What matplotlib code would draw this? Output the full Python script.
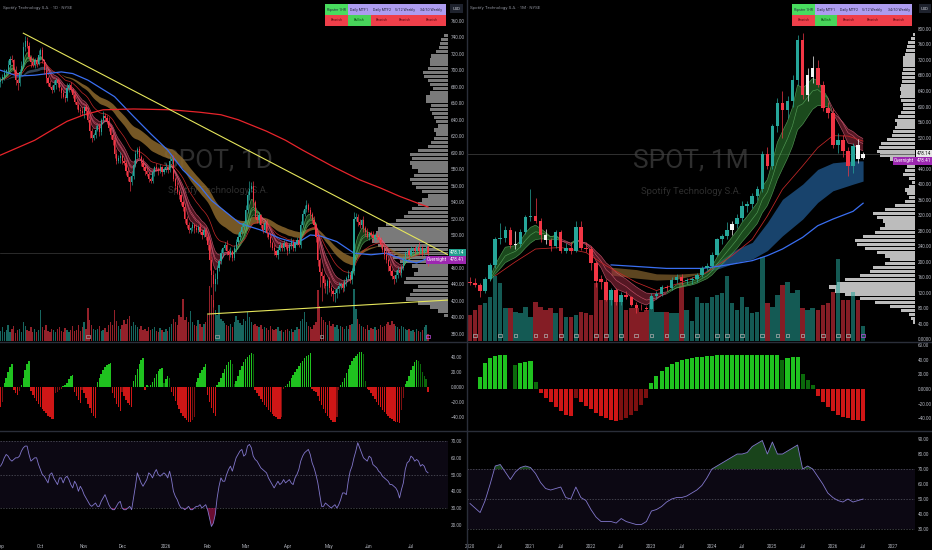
import numpy as np
import pandas as pd
import matplotlib
matplotlib.use("Agg")
import matplotlib.pyplot as plt
from matplotlib.patches import Rectangle
from matplotlib.collections import LineCollection

plt.rcParams['font.family'] = ['Roboto', 'DejaVu Sans']

# ======================= DATA =======================
# ---- daily (left) ----
d_start = '2025-09-02'
d_first_open = 686
d_close = [
    688, 692, 697, 700, 706, 714, 712, 700, 688, 684,
    698, 705, 728, 735, 730, 716, 710, 706, 712, 708,
    718, 724, 712, 700, 690, 684, 680, 676, 682, 688,
    684, 678, 672, 668, 666, 678, 682, 676, 670, 662,
    658, 652, 650, 648, 655, 650, 640, 626, 618, 622,
    628, 632, 625, 640, 645, 642, 638, 630, 622, 615,
    598, 590, 594, 596, 590, 588, 578, 570, 564, 572,
    585, 598, 604, 595, 588, 582, 578, 574, 568, 566,
    576, 582, 580, 578, 582, 576, 580, 582, 579, 590,
    592, 568, 560, 552, 548, 540, 534, 520, 512, 506,
    508, 512, 508, 506, 510, 504, 500, 506, 498, 488,
    470, 452, 440, 446, 460, 468, 478, 484, 488, 480,
    476, 480, 472, 484, 492, 498, 504, 510, 514, 530,
    548, 556, 560, 540, 522, 518, 524, 512, 506, 514,
    502, 498, 490, 484, 480, 476, 482, 488, 484, 490,
    486, 480, 488, 492, 484, 490, 494, 488, 512, 526,
    532, 536, 530, 526, 518, 512, 498, 470, 455, 450,
    442, 438, 444, 436, 432, 428, 430, 434, 438, 440,
    436, 444, 448, 452, 446, 456, 520, 522, 516, 512,
    518, 508, 504, 498, 502, 500, 496, 500, 498, 494,
    488, 482, 476, 470, 462, 456, 450, 446, 452, 458,
    454, 460, 470, 478, 480, 476, 482, 484, 480, 486,
    480, 484, 478, 482, 486, 478]
d_wick_up = [
    4, 3, 5, 2, 6, 3, 4, 2, 5, 3,
    4, 6, 6, 6, 5, 4, 2, 6, 3, 4,
    6, 3, 4, 2, 5, 3, 4, 2, 6, 3,
    3, 5, 2, 4, 3, 6, 2, 4, 3, 5,
    2, 4, 3, 5, 2, 4, 6, 3, 4, 2,
    5, 3, 4, 2, 6, 3, 4, 5, 3, 2,
    4, 6, 3, 5, 2, 4, 3, 5, 2, 4,
    6, 5, 3, 4, 2, 5, 3, 4, 2, 3,
    4, 2, 5, 3, 4, 2, 3, 5, 2, 6,
    3, 5, 2, 4, 3, 4, 2, 5, 3, 4,
    2, 4, 3, 5, 2, 4, 3, 2, 4, 3,
    6, 4, 5, 8, 4, 3, 5, 2, 4, 6,
    3, 5, 2, 4, 3, 5, 2, 4, 3, 6,
    5, 10, 4, 6, 3, 5, 4, 2, 4, 3,
    5, 2, 4, 3, 5, 2, 4, 3, 2, 4,
    3, 5, 2, 4, 3, 2, 4, 3, 5, 4,
    5, 7, 3, 4, 2, 5, 3, 4, 2, 5,
    3, 4, 2, 5, 3, 2, 4, 3, 5, 2,
    4, 3, 2, 5, 3, 4, 8, 5, 3, 4,
    2, 5, 3, 4, 2, 3, 5, 2, 4, 3,
    4, 2, 3, 5, 2, 4, 3, 2, 5, 3,
    4, 3, 5, 2, 4, 3, 5, 2, 4, 3,
    5, 3, 4, 2, 3, 2]
d_wick_dn = [
    6, 3, 4, 2, 3, 5, 2, 4, 6, 8,
    3, 4, 2, 5, 3, 4, 6, 2, 3, 4,
    2, 5, 3, 4, 6, 3, 2, 4, 3, 5,
    4, 3, 6, 2, 4, 3, 5, 2, 4, 3,
    5, 3, 4, 2, 6, 4, 3, 8, 5, 3,
    4, 2, 5, 3, 4, 2, 3, 4, 5, 6,
    5, 4, 3, 6, 4, 3, 5, 4, 10, 3,
    4, 3, 5, 2, 4, 3, 5, 2, 4, 3,
    3, 4, 2, 5, 3, 4, 2, 3, 4, 2,
    4, 3, 5, 2, 4, 3, 5, 6, 4, 3,
    4, 3, 5, 2, 4, 3, 5, 2, 4, 6,
    12, 15, 27, 8, 5, 4, 3, 5, 2, 4,
    6, 3, 4, 2, 5, 3, 4, 2, 3, 4,
    3, 5, 4, 6, 3, 4, 5, 3, 4, 2,
    4, 3, 5, 2, 4, 3, 5, 2, 4, 3,
    3, 4, 2, 5, 3, 4, 2, 3, 4, 2,
    3, 4, 2, 5, 3, 4, 6, 8, 18, 30,
    6, 8, 10, 5, 6, 8, 9, 6, 5, 4,
    5, 4, 6, 3, 4, 5, 4, 3, 5, 4,
    3, 4, 5, 2, 4, 3, 5, 2, 4, 3,
    4, 3, 5, 4, 6, 5, 4, 6, 3, 4,
    3, 5, 2, 4, 3, 5, 2, 4, 3, 2,
    4, 3, 5, 2, 3, 16]
d_volume = [
    1.6, 2.2, 1.4, 1.8, 2.6, 1.5, 1.9, 2.4, 1.3, 1.7,
    2.0, 1.5, 3.1, 2.4, 1.8, 1.6, 2.2, 1.4, 1.9, 1.5,
    1.7, 5.0, 2.3, 1.8, 2.6, 1.6, 1.4, 2.0, 1.7, 1.5,
    1.9, 2.3, 1.6, 1.4, 2.1, 1.8, 1.5, 1.7, 2.4, 1.6,
    1.8, 2.5, 1.6, 2.2, 3.0, 2.0, 5.3, 3.4, 2.6, 2.0,
    1.7, 1.9, 2.4, 1.6, 1.8, 2.1, 1.5, 2.6, 3.0, 2.5,
    4.9, 3.2, 2.4, 2.0, 2.6, 3.3, 2.8, 3.6, 4.0, 2.4,
    3.0, 2.6, 2.2, 1.9, 2.4, 1.7, 2.0, 1.6, 2.2, 1.8,
    1.9, 2.3, 1.6, 1.5, 2.1, 1.7, 1.4, 1.9, 1.6, 2.2,
    2.8, 3.5, 3.0, 2.6, 4.2, 3.8, 6.8, 3.4, 3.9, 3.0,
    4.8, 3.1, 2.6, 2.4, 3.4, 2.8, 2.2, 2.7, 3.0, 4.2,
    8.8, 7.4, 6.6, 5.0, 4.2, 5.8, 3.6, 3.2, 2.9, 2.6,
    2.4, 2.8, 2.3, 3.0, 4.0, 3.4, 2.9, 2.6, 3.6, 3.2,
    4.6, 3.8, 3.0, 2.6, 2.8, 2.4, 2.2, 2.6, 2.0, 2.3,
    2.1, 1.8, 2.4, 2.0, 1.7, 1.9, 2.2, 1.6, 1.8, 1.5,
    1.7, 2.0, 1.6, 1.9, 1.5, 1.8, 2.2, 2.0, 3.2, 3.6,
    4.6, 3.0, 2.4, 2.2, 2.0, 2.6, 3.0, 8.2, 5.6, 3.8,
    3.4, 3.0, 2.6, 3.2, 2.4, 2.8, 2.2, 2.6, 2.0, 2.4,
    2.2, 1.9, 2.4, 2.0, 2.6, 2.8, 8.4, 5.2, 3.6, 2.8,
    2.4, 2.2, 2.0, 2.6, 1.8, 2.1, 1.9, 2.3, 1.7, 2.0,
    2.6, 2.2, 2.4, 2.8, 3.0, 2.6, 3.2, 2.8, 2.4, 2.2,
    2.0, 2.4, 2.2, 1.9, 1.7, 2.0, 1.6, 1.8, 1.5, 1.9,
    1.6, 1.4, 1.8, 2.2, 2.6, 1.2]
d_hist = [
    -26, -20, 5, 12, 20, 26, 30, -4, -8, -10, -5, 3, 12, 22, 30, 34,
    -5, -10, -14, -18, -22, -26, -29, -32, -35, -38, -40, -42, -43,
    -8, -6, -4, -2, 2, 3, 5, 10, 14, 16, -6, -12, -17, -21, -4, -8,
    -15, -22, -28, -34, -38, -41, 6, 12, 17, 22, 26, 29, 31, 32,
    -8, -15, -22, -27, -32, -6, -12, -17, -21, -24, -26,
    8, 16, 24, 31, 36, 39, -4, 3, 2, 3, 6, 12, 17, 21, 24, 25, 5, 10, 14, 12,
    -6, -12, -18, -24, -29, -34, -38, -41, -44, -46, -46, -44, -40,
    6, 12, 18, 23, 27, 30, -10, -20, -28, -34, -39, 3,
    6, 12, 18, 24, 29, 33, 36, 30, 4,
    8, 15, 22, 28, 33, 37, 40, 43, 45, 44,
    -4, -8, -12, -16, -20, -24, -27, -30, -33, -36, -38, -40, -42, -43, -40,
    -3, 2,
    4, 8, 12, 16, 20, 24, 28, 32, 35, 38, 41, 43, 45,
    -3, -5,
    -6, -12, -18, -24, -29, -34, -38, -41, -44, -46, -46, -40,
    -4, 3,
    6, 12, 18, 24, 29, 34, 38, 41, 44, 46, 47, 44,
    8, -3,
    -4, -8, -12, -16, -20, -24, -27, -30, -33, -36, -39, -41, -43, -45, -46, -47, -48,
    -30, -15, 4,
    8, 15, 22, 28, 33, 36, 34, 30,
    20, 14, 10,
    -6]
d_rsi = [
    55, 57, 60, 62, 61, 59, 58, 59, 60, 60,
    61, 64, 66, 67, 67, 62, 58, 59, 60, 60,
    56, 53, 50, 49, 47, 45, 50, 51, 48, 46,
    44, 48, 48, 45, 48, 49, 47, 44, 42, 46,
    44, 40, 43, 41, 38, 36, 34, 32, 31, 32,
    33, 31, 31, 34, 36, 38, 35, 32, 30, 29,
    29, 31, 33, 34, 30, 29, 29, 30, 31, 29,
    36, 43, 51, 48, 45, 43, 45, 47, 51, 50,
    48, 51, 53, 50, 49, 50, 51, 50, 48, 52,
    47, 40, 37, 35, 32, 30, 30, 29, 30, 31,
    29, 29, 30, 31, 31, 32, 30, 31, 32, 29,
    24, 19, 21, 26, 36, 43, 48, 46, 46, 50,
    53, 55, 52, 56, 60, 62, 64, 65, 61, 62,
    67, 68, 66, 61, 59, 58, 56, 54, 53, 52,
    51, 48, 46, 44, 42, 44, 46, 44, 45, 47,
    45, 46, 47, 45, 44, 48, 50, 53, 58, 61,
    63, 64, 65, 62, 57, 54, 50, 45, 38, 31,
    31, 33, 32, 31, 30, 31, 32, 30, 32, 35,
    39, 39, 38, 46, 52, 55, 60, 64, 69, 66,
    63, 60, 59, 58, 61, 60, 56, 55, 54, 52,
    51, 49, 48, 47, 46, 44, 44, 43, 42, 40,
    36, 41, 45, 53, 57, 58, 61, 60, 58, 59,
    58, 55, 56, 55, 52, 51]
d_blue_idx = [0, 9, 18, 32, 38, 46, 53, 60, 70, 79, 88, 96, 105, 111, 126, 137,
              147, 156, 163, 168, 177, 186, 195, 203, 212, 219, 225]
d_blue = [700, 693, 694, 698, 696, 688, 678, 668, 644, 623, 603, 579, 559, 542, 514, 506,
          496, 490, 500, 499, 492, 478, 476, 478, 470, 466, 472]
d_red_idx = [0, 9, 18, 26, 35, 44, 54, 70, 90, 105, 116, 125, 140, 150, 159, 175,
             189, 200, 210, 218, 225]
d_red = [597, 606, 615, 626, 638, 646, 652, 653, 652, 649, 646, 640, 626, 615, 603, 583,
         567, 557, 547, 540, 534]
d_trend_upper = [(12, 745), (235.5, 476)]
d_trend_lower = [(109, 404), (235.5, 421)]
d_profile_lo, d_profile_step = 400, 5
d_profile = [
    4, 10, 18, 30, 42, 38, 35, 30, 44, 42,
    34, 30, 36, 48, 55, 60, 64, 70, 76, 74,
    72, 70, 62, 52, 44, 40, 36, 30, 26, 20,
    26, 32, 36, 38, 34, 30, 36, 38, 36, 38,
    30, 20, 17, 14, 12, 14, 10, 12, 14, 16,
    18, 17, 22, 22, 18, 15, 18, 20, 24, 25,
    20, 18, 18, 17, 12, 9, 8, 7, 4]
d_earnings = [46, 114, 169, 225]

# ---- monthly (right) ----
m_start = '2020-01'
m_open = [149, 146, 140, 126, 156, 192, 258, 262, 282, 243,
          246, 278, 315, 318, 306, 268, 256, 242, 276, 229,
          236, 228, 290, 235, 233, 197, 155, 149, 102, 128,
          96, 114, 109, 88, 82, 80, 79, 113, 117, 134,
          133, 153, 161, 150, 152, 155, 166, 185, 188, 218,
          258, 266, 282, 297, 314, 344, 348, 370, 387, 477,
          447, 549, 609, 592, 615, 669, 772, 631, 676, 699,
          656, 596, 583, 502, 515, 485, 447, 500, 468]
m_high = [160, 158, 146, 160, 198, 265, 300, 292, 290, 280,
          285, 320, 387, 365, 312, 285, 262, 282, 282, 248,
          250, 305, 306, 250, 240, 202, 166, 155, 132, 132,
          122, 126, 113, 96, 92, 86, 120, 126, 140, 140,
          160, 168, 168, 158, 160, 172, 190, 196, 225, 262,
          272, 302, 305, 322, 356, 356, 376, 396, 486, 496,
          555, 622, 640, 626, 680, 785, 790, 700, 730, 720,
          665, 612, 596, 532, 526, 496, 506, 516, 482]
m_low = [140, 135, 109, 120, 150, 185, 245, 250, 235, 233,
         238, 272, 305, 300, 250, 245, 228, 236, 222, 222,
         220, 224, 230, 226, 180, 135, 130, 98, 90, 88,
         90, 104, 85, 69, 75, 76, 78, 104, 112, 124,
         128, 145, 140, 144, 144, 148, 160, 180, 184, 214,
         245, 260, 270, 288, 305, 328, 338, 360, 380, 440,
         440, 535, 520, 570, 600, 655, 620, 615, 660, 650,
         588, 570, 494, 480, 470, 420, 430, 455, 466]
m_close = [146, 140, 126, 156, 192, 258, 262, 282, 243, 246,
           278, 315, 318, 306, 268, 256, 242, 276, 229, 236,
           228, 290, 235, 233, 197, 150, 149, 102, 128, 96,
           114, 109, 88, 82, 80, 79, 113, 117, 134, 133,
           153, 161, 150, 152, 155, 166, 185, 188, 218, 258,
           266, 282, 297, 314, 344, 348, 370, 387, 477, 447,
           549, 609, 592, 615, 669, 772, 631, 682, 699, 656,
           596, 583, 502, 515, 485, 447, 498, 465, 478]
m_white = [9, 15, 52, 67, 68, 77, 78]
m_volume = [25, 30, 35, 37, 43, 63, 57, 32, 32, 28,
            27, 33, 23, 38, 33, 30, 32, 27, 32, 23,
            23, 25, 28, 27, 25, 57, 40, 43, 50, 43,
            42, 30, 32, 32, 28, 30, 43, 28, 28, 28,
            27, 27, 57, 30, 20, 43, 37, 37, 43, 45,
            47, 63, 37, 30, 43, 33, 27, 28, 82, 37,
            33, 45, 55, 58, 47, 50, 32, 30, 32, 30,
            35, 37, 48, 80, 40, 40, 48, 40, 15]
m_hist = [np.nan, np.nan, 17, 35, 42, 45, 46, 47, np.nan, 33,
          36, 37, 38, 10, -5, -12, -18, -24, -30, -35,
          -37, -12, -18, -23, -28, -33, -37, -40, -42, -44,
          -43, -40, -36, -30, -22, -12, 8, 18, 25, 30,
          34, 37, 39, 41, 42, 43, 44, 45, 45, 46,
          46, 47, 47, 47, 47, 47, 47, 47, 47, 47,
          47, 47, 40, 42, 43, 44, 20, 12, 5, -10,
          -18, -25, -30, -35, -38, -40, -42, -43, -44]
m_rsi = [47, 44, 41, 49, 60, 72, 73, 68, 63, 68,
         71, 72, 71, 67, 61, 57, 56, 57, 58, 51,
         50, 58, 51, 49, 43, 38, 35, 35, 35, 34,
         37, 35, 34, 33, 33, 35, 42, 43, 45, 48,
         50, 51, 51, 52, 54, 56, 59, 64, 70, 72,
         74, 76, 78, 80, 80, 81, 85, 87, 89, 80,
         88, 80, 80, 82, 84, 86, 70, 72, 70, 65,
         60, 54, 51, 49, 48, 50, 48, 49, 50]
m_red_idx = [5, 9, 13, 18, 23, 27, 33, 37, 42, 47, 52, 56, 59, 62, 66, 69, 72, 75, 78]
m_red = [164, 200, 233, 237, 224, 190, 147, 126, 147, 173, 216, 258, 318, 387, 447, 494, 525, 524, 511]
m_blue_idx = [28, 33, 39, 46, 49, 52, 56, 59, 62, 66, 69, 72, 76, 78]
m_blue = [192, 188, 183, 183, 188, 194, 203, 216, 233, 263, 293, 310, 330, 351]
m_cloud_idx = [28, 33, 37, 41, 46, 49, 53, 56, 59, 62, 66, 69, 72, 76, 78]
m_cloud_fast = [166, 158, 153, 155, 170, 198, 233, 250, 301, 361, 400, 438, 455, 460, 460]
m_cloud_slow = [186, 180, 169, 168, 172, 181, 199, 207, 229, 267, 310, 353, 383, 400, 408]
m_profile_lo, m_profile_step = 0, 10
m_profile = [
    0, 0, 0, 0, 2, 4, 6, 14, 25, 40,
    55, 70, 80, 86, 78, 70, 55, 45, 42, 30,
    25, 30, 38, 50, 58, 60, 52, 40, 35, 30,
    32, 38, 42, 30, 20, 10, 6, 8, 10, 6,
    3, 6, 12, 10, 8, 15, 25, 35, 38, 36,
    34, 28, 23, 22, 20, 18, 20, 17, 14, 12,
    12, 14, 15, 14, 15, 14, 13, 13, 13, 12,
    12, 12, 12, 10, 9, 8, 7, 4, 2, 0]
m_earnings = [1, 6, 9, 13, 15, 18, 21, 25, 27, 30, 33, 36, 39, 42, 45, 49, 51, 54,
              58, 61, 63, 66, 70, 73, 75, 78]

last_price = 478.14
overnight_price = 478.41
table_row1 = ["Ripster 1HR", "Daily MTF1", "Daily MTF2", "5/12 Weekly", "34/50 Weekly"]
table_row2 = ["Bearish", "Bullish", "Bearish", "Bearish", "Bearish"]

for arr in (d_wick_up, d_wick_dn, d_volume, d_hist, d_rsi):
    assert len(arr) == len(d_close), len(arr)
for arr in (m_open, m_high, m_low, m_volume, m_hist, m_rsi):
    assert len(arr) == len(m_close), len(arr)

# ======================= STYLE / LAYOUT =======================
W, H = 932, 550
BG = '#000000'
UP, DN = '#26a69a', '#f23645'
TXT = '#b2b5be'
SEP = '#2a2e39'
LBL = 3.3

fig = plt.figure(figsize=(W / 100, H / 100), dpi=100, facecolor=BG)


def add_ax(x0, y0, x1, y1):
    ax = fig.add_axes([x0 / W, 1 - y1 / H, (x1 - x0) / W, (y1 - y0) / H])
    ax.set_facecolor(BG)
    for s in ax.spines.values():
        s.set_visible(False)
    ax.tick_params(axis='x', bottom=False, labelbottom=False)
    ax.yaxis.tick_right()
    ax.tick_params(axis='y', length=0, labelsize=LBL, labelcolor=TXT, pad=2.2)
    return ax


def fmt(v, zero="0.0000"):
    if v == 0:
        return zero
    s = f"{abs(v):.2f}"
    return "\u2212" + s if v < 0 else s


def colored_line(ax, x, y, cond, c1, c2, lw, alpha=1.0, z=3):
    pts = np.column_stack([x, y])
    segs = np.stack([pts[:-1], pts[1:]], axis=1)
    cols = [c1 if k else c2 for k in cond[1:]]
    ax.add_collection(LineCollection(segs, colors=cols, linewidths=lw, alpha=alpha, zorder=z))


def candles(ax, x, o, h, l, c, w, lw, minbody, special=()):
    cols = np.where(c >= o, UP, DN).astype(object)
    for k in special:
        cols[k] = '#f5f5f5'
    ax.vlines(x, l, h, colors=list(cols), linewidth=lw, zorder=5)
    body = np.maximum(np.abs(c - o), minbody)
    ax.bar(x, body, w, bottom=np.minimum(o, c), color=list(cols), linewidth=0, zorder=5.1)
    return cols


def hist_colors(v):
    cols = []
    prev = 0.0
    for val in v:
        if np.isnan(val):
            cols.append('none')
            continue
        if val >= 0:
            cols.append('#1fc21f' if val >= prev else '#0b6a0b')
        else:
            cols.append('#cf1616' if val <= prev else '#7d1010')
        prev = val
    return cols


def rsi_panel(ax, x, r, ticks):
    r = np.asarray(r, float)
    ax.axhspan(30, 70, color='#7e57c2', alpha=0.10, lw=0, zorder=0)
    for lv in (70, 50, 30):
        ax.axhline(lv, color='#787b86', lw=0.5, ls=(0, (2, 2)), alpha=0.7, zorder=1)
    ax.fill_between(x, r, 70, where=r > 70, interpolate=True, color='#2e7d32', alpha=0.55, lw=0, zorder=2)
    ax.fill_between(x, r, 30, where=r < 30, interpolate=True, color='#c2185b', alpha=0.55, lw=0, zorder=2)
    ax.plot(x, r, color='#8277cc', lw=0.6, zorder=3)
    ax.set_yticks(ticks)
    ax.set_yticklabels([fmt(t) for t in ticks])


# ----------------------------- LEFT (daily) -----------------------------
nd = len(d_close)
xd = np.arange(nd)
d_open = np.array([d_first_open] + d_close[:-1], float)
dc = np.array(d_close, float)
dh = np.maximum(d_open, dc) + np.array(d_wick_up)
dl = np.minimum(d_open, dc) - np.array(d_wick_dn)

ax_lm = add_ax(0, 0, 448, 341)
ax_lh = add_ax(0, 341, 448, 430)
ax_lr = add_ax(0, 430, 448, 537)
LX = (-0.263, 235.5)

# watermark
ax_lm.text(0.487, 0.53, "SPOT, 1D", transform=ax_lm.transAxes, ha='center', va='center',
           fontsize=19, color='#2e2e2e', zorder=0)
ax_lm.text(0.487, 0.44, "Spotify Technology S.A.", transform=ax_lm.transAxes, ha='center',
           va='center', fontsize=6.8, color='#2e2e2e', zorder=0)

# volume profile
prof = np.array(d_profile, float)
pp = d_profile_lo + d_profile_step * np.arange(len(prof))
wfrac = prof / prof.max() * (76 / 448)
ax_lm.barh(pp + d_profile_step / 2, wfrac, left=1 - wfrac, height=d_profile_step * 0.82,
           color='#9a9a9a', alpha=0.8, lw=0, transform=ax_lm.get_yaxis_transform(), zorder=1)

# volume
cols_d = np.where(dc >= d_open, UP, DN)
vfrac = np.array(d_volume) / max(d_volume) * (55 / 341)
ax_lm.bar(xd, vfrac, 0.72, bottom=0, color=list(cols_d), alpha=0.62, lw=0,
          transform=ax_lm.get_xaxis_transform(), zorder=1.5)

# EMA clouds computed from closes
sd = pd.Series(dc)
e5, e8, e9, e12 = [sd.ewm(span=n, adjust=False).mean().values for n in (5, 8, 9, 12)]
e21 = sd.ewm(span=21, adjust=False).mean().values
e34, e50 = [sd.ewm(span=n, adjust=False).mean().values for n in (34, 50)]
b34 = e34 >= e50
ax_lm.fill_between(xd, e34, e50, where=b34, interpolate=True, color='#5d7896', alpha=0.55, lw=0, zorder=2)
ax_lm.fill_between(xd, e34, e50, where=~b34, interpolate=True, color='#8a672c', alpha=0.85, lw=0, zorder=2)
b5 = e5 >= e12
ax_lm.fill_between(xd, e5, e12, where=b5, interpolate=True, color='#2e7d32', alpha=0.5, lw=0, zorder=2.5)
ax_lm.fill_between(xd, e5, e12, where=~b5, interpolate=True, color='#9c2a40', alpha=0.5, lw=0, zorder=2.5)
for e in (e5, e8, e9, e12):
    colored_line(ax_lm, xd, e, b5, '#66bb6a', '#e0607e', 0.45, 0.8, 2.7)
ax_lm.plot(xd, e21, color='#c62828', lw=0.5, zorder=2.8)
ax_lm.plot(d_blue_idx, d_blue, color='#3a6ff2', lw=0.9, zorder=3)
ax_lm.plot(d_red_idx, d_red, color='#e8242b', lw=0.9, zorder=3)

# price line
ax_lm.axhline(last_price, color='#3c3c3c', lw=0.5, zorder=1.2)

# candles
candles(ax_lm, xd, d_open, dh, dl, dc, 0.62, 0.45, 0.8)

# trend lines
for tl in (d_trend_upper, d_trend_lower):
    ax_lm.plot([p[0] for p in tl], [p[1] for p in tl], color='#e6e65c', lw=0.8, zorder=6)

# earnings markers
ax_lm.scatter(d_earnings, [0.014] * len(d_earnings), transform=ax_lm.get_xaxis_transform(),
              marker='s', s=6, facecolors='none',
              edgecolors=['#a0a0a0'] * (len(d_earnings) - 1) + ['#c050e0'], linewidths=0.5, zorder=7)

ax_lm.set_xlim(*LX)
ax_lm.set_ylim(371.3, 785.3)
lt = list(range(380, 761, 20))
ax_lm.set_yticks(lt)
ax_lm.set_yticklabels([fmt(t) for t in lt])

# price tags
def tags(ax, main_fc, main_tc):
    tr = ax.get_yaxis_transform()
    ax.annotate(f"{last_price:.2f}", xy=(1, last_price), xycoords=tr, xytext=(1.6, 0),
                textcoords='offset points', ha='left', va='center', fontsize=LBL, color=main_tc,
                bbox=dict(boxstyle='square,pad=0.3', fc=main_fc, ec='none'), annotation_clip=False, zorder=20)
    ax.annotate(f"{overnight_price:.2f}", xy=(1, overnight_price), xycoords=tr, xytext=(1.6, -5),
                textcoords='offset points', ha='left', va='center', fontsize=LBL, color='white',
                bbox=dict(boxstyle='square,pad=0.3', fc='#9c27b0', ec='none'), annotation_clip=False, zorder=20)
    ax.annotate("Overnight", xy=(1, overnight_price), xycoords=tr, xytext=(-0.6, -5),
                textcoords='offset points', ha='right', va='center', fontsize=LBL, color='white',
                bbox=dict(boxstyle='square,pad=0.3', fc='#9c27b0', ec='none'), annotation_clip=False, zorder=20)

tags(ax_lm, '#22a08e', 'white')

# histogram
ax_lh.bar(xd, d_hist, 0.75, color=hist_colors(np.array(d_hist, float)), lw=0)
ax_lh.set_xlim(*LX)
ax_lh.set_ylim(-57.3, 61.3)
ht = [-40, -20, 0, 20, 40]
ax_lh.set_yticks(ht)
ax_lh.set_yticklabels([fmt(t) for t in ht])

# RSI
rsi_panel(ax_lr, xd, d_rsi, [20, 30, 40, 50, 60, 70])
ax_lr.set_xlim(*LX)
ax_lr.set_ylim(12.7, 76.6)
dates = pd.bdate_range(d_start, periods=nd)
per = dates.to_period('M')
tick_i = [0] + [k for k in range(1, nd) if per[k] != per[k - 1]]
tick_l = [str(dates[k].year) if dates[k].month == 1 else dates[k].strftime('%b') for k in tick_i]
ax_lr.set_xticks(tick_i)
ax_lr.set_xticklabels(tick_l)
ax_lr.tick_params(axis='x', bottom=False, labelbottom=True, labelsize=LBL, labelcolor=TXT, pad=1.8)

# ----------------------------- RIGHT (monthly) -----------------------------
nm = len(m_close)
xm = np.arange(nm)
mo, mh, ml, mc = [np.array(a, float) for a in (m_open, m_high, m_low, m_close)]

ax_rm = add_ax(467, 0, 915, 341)
ax_rh = add_ax(467, 341, 915, 430)
ax_rr = add_ax(467, 430, 915, 537)
RX = (-0.6, 88.3)

ax_rm.text(0.5, 0.53, "SPOT, 1M", transform=ax_rm.transAxes, ha='center', va='center',
           fontsize=19, color='#2e2e2e', zorder=0)
ax_rm.text(0.5, 0.437, "Spotify Technology S.A.", transform=ax_rm.transAxes, ha='center',
           va='center', fontsize=6.8, color='#2e2e2e', zorder=0)

mprof = np.array(m_profile, float)
mpp = m_profile_lo + m_profile_step * np.arange(len(mprof))
mw = mprof / mprof.max() * (86 / 448)
ax_rm.barh(mpp + m_profile_step / 2, mw, left=1 - mw, height=m_profile_step * 0.82,
           color='#d2d2d2', alpha=0.9, lw=0, transform=ax_rm.get_yaxis_transform(), zorder=1)

cols_m = np.where(mc >= mo, UP, DN)
mv = np.array(m_volume, float) / max(m_volume) * (84 / 341)
ax_rm.bar(xm, mv, 0.88, bottom=0, color=list(cols_m), alpha=0.55, lw=0,
          transform=ax_rm.get_xaxis_transform(), zorder=1.5)

# 34/50 cloud (read values)
cf = np.array(m_cloud_fast, float)
cs = np.array(m_cloud_slow, float)
bc = cf >= cs
ax_rm.fill_between(m_cloud_idx, cf, cs, where=bc, interpolate=True, color='#1d4f80', alpha=0.85, lw=0, zorder=2)
ax_rm.fill_between(m_cloud_idx, cf, cs, where=~bc, interpolate=True, color='#6e5226', alpha=0.85, lw=0, zorder=2)

# 5/12 cloud computed from closes
sm = pd.Series(mc)
me5, me8, me12 = [sm.ewm(span=n, adjust=False).mean().values for n in (5, 8, 12)]
s0 = 4
xs = xm[s0:]
mb = me5[s0:] >= me12[s0:]
ax_rm.fill_between(xs, me5[s0:], me12[s0:], where=mb, interpolate=True, color='#2e7d32', alpha=0.6, lw=0, zorder=2.5)
ax_rm.fill_between(xs, me5[s0:], me12[s0:], where=~mb, interpolate=True, color='#9c2a40', alpha=0.55, lw=0, zorder=2.5)
for e in (me5, me8, me12):
    colored_line(ax_rm, xs, e[s0:], mb, '#5fae62', '#d9607a', 0.45, 0.8, 2.7)
ax_rm.plot(m_red_idx, m_red, color='#c62828', lw=0.55, zorder=2.8)
ax_rm.plot(m_blue_idx, m_blue, color='#3a6ff2', lw=0.9, zorder=3)
ax_rm.axhline(last_price, color='#444444', lw=0.5, zorder=1.2)

candles(ax_rm, xm, mo, mh, ml, mc, 0.7, 0.5, 2.0, special=m_white)

ecols = ['#b0b0b0'] * (len(m_earnings) - 1) + ['#c050e0']
ax_rm.scatter(m_earnings, [0.016] * len(m_earnings), transform=ax_rm.get_xaxis_transform(),
              marker='s', s=7, facecolors='none', edgecolors=ecols, linewidths=0.5, zorder=7)

ax_rm.set_xlim(*RX)
ax_rm.set_ylim(-4.0, 874.5)
rt = list(range(0, 801, 40))
ax_rm.set_yticks(rt)
ax_rm.set_yticklabels([fmt(t) for t in rt])
tags(ax_rm, '#e8e8e8', '#111111')

mh_arr = np.array(m_hist, float)
ax_rh.bar(xm, np.nan_to_num(mh_arr), 0.8, color=hist_colors(mh_arr), lw=0)
ax_rh.set_xlim(*RX)
ax_rh.set_ylim(-56, 65.5)
rht = [-40, -20, 0, 20, 40, 60]
ax_rh.set_yticks(rht)
ax_rh.set_yticklabels([fmt(t) for t in rht])

rsi_panel(ax_rr, xm, m_rsi, [30, 40, 50, 60, 70, 80, 90])
ax_rr.set_xlim(*RX)
ax_rr.set_ylim(24.7, 96)
p0 = pd.Period(m_start, 'M')
mt_i, mt_l = [], []
for yr in range(p0.year, 2028):
    for mon in (1, 7):
        k = (yr - p0.year) * 12 + (mon - p0.month)
        if RX[0] <= k <= RX[1]:
            mt_i.append(k)
            mt_l.append(str(yr) if mon == 1 else 'Jul')
ax_rr.set_xticks(mt_i)
ax_rr.set_xticklabels(mt_l)
ax_rr.tick_params(axis='x', bottom=False, labelbottom=True, labelsize=LBL, labelcolor=TXT, pad=1.8)

# ----------------------------- OVERLAY -----------------------------
ov = fig.add_axes([0, 0, 1, 1])
ov.set_xlim(0, W)
ov.set_ylim(H, 0)
ov.axis('off')
ov.patch.set_alpha(0)
ov.set_zorder(10)

ov.plot([466.5, 466.5], [0, H], color=SEP, lw=1)
for yy in (341.5, 430.5):
    ov.plot([0, W], [yy, yy], color=SEP, lw=1)

ov.text(3, 8, "Spotify Technology S.A. \u00b7 1D \u00b7 NYSE", fontsize=3.2, color='#8c8f99', va='center')
ov.text(470, 8, "Spotify Technology S.A. \u00b7 1M \u00b7 NYSE", fontsize=3.2, color='#8c8f99', va='center')


def table(xs):
    c1 = ['#48dc5e'] + ['#ad9cf0'] * 4
    c2 = ['#ef3f4a', '#48d45a', '#ef3f4a', '#ef3f4a', '#ef3f4a']
    t2 = ['#6a0d14', '#0d5518', '#6a0d14', '#6a0d14', '#6a0d14']
    for k in range(5):
        ov.add_patch(Rectangle((xs[k], 4), xs[k + 1] - xs[k], 11, fc=c1[k], ec='none'))
        ov.add_patch(Rectangle((xs[k], 15), xs[k + 1] - xs[k], 10.5, fc=c2[k], ec='none'))
        cx = (xs[k] + xs[k + 1]) / 2
        ov.text(cx, 9.6, table_row1[k], fontsize=2.6, color='#2a2a40', ha='center', va='center')
        ov.text(cx, 20.3, table_row2[k], fontsize=2.6, color=t2[k], ha='center', va='center')


table([325, 348, 371, 393, 417, 446])
table([792, 815, 837, 860, 885, 912])

for ux in (456.5, 925):
    ov.text(ux, 8.5, "USD", fontsize=3.0, color='#d1d4dc', ha='center', va='center',
            bbox=dict(boxstyle='square,pad=0.5', fc='#1e222d', ec='none'))

fig.savefig('out.png', dpi=100, facecolor=BG)
